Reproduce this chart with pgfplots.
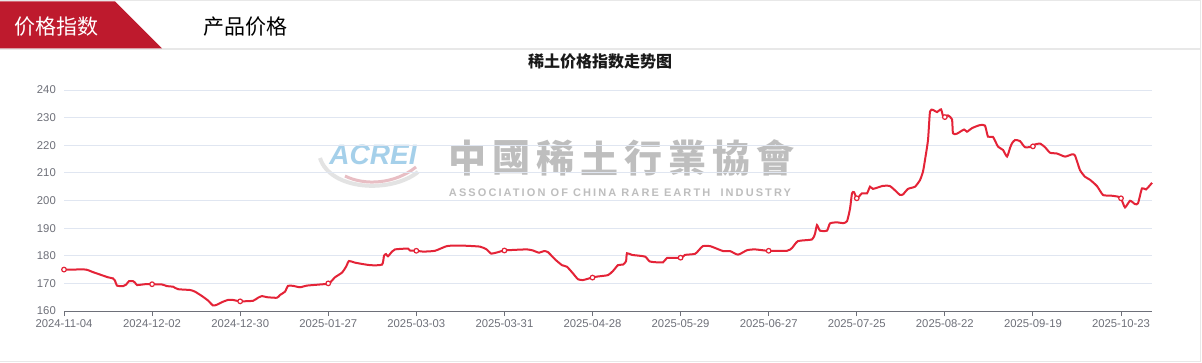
\documentclass[border=0pt]{standalone}
\usepackage{pgfplots}
\pgfplotsset{compat=1.18}
\usepackage{fontspec}
\setmainfont{Liberation Sans}
\newfontfamily\cjk{Noto Sans CJK SC}
\newfontfamily\cjktc{Noto Sans CJK TC}
\newfontfamily\wmfont[LetterSpace=19]{Liberation Sans Bold}
\definecolor{hdrred}{RGB}{190,26,45}
\definecolor{linered}{RGB}{228,35,55}
\definecolor{gridc}{RGB}{224,230,241}
\definecolor{axisc}{RGB}{110,112,121}
\definecolor{borderc}{RGB}{232,232,232}
\definecolor{wmgray}{RGB}{190,190,190}
\definecolor{wmblue}{RGB}{165,208,234}
\definecolor{wmpink}{RGB}{232,190,196}
\begin{document}
\begin{tikzpicture}
\useasboundingbox (0pt,0pt) rectangle (1202pt,362pt);
% header
\fill[white] (0pt,0pt) rectangle (1202pt,362pt);
\draw[borderc,line width=1pt] (0pt,361.5pt) -- (1200.5pt,361.5pt) -- (1200.5pt,0.5pt) -- (0pt,0.5pt);
\draw[borderc,line width=1.5pt] (0pt,313pt) -- (1200pt,313pt);
\fill[hdrred] (0pt,313.5pt) -- (0pt,360.5pt) -- (115pt,360.5pt) -- (162pt,313.5pt) -- cycle;
\node[anchor=west,inner sep=0pt,text=white] at (14pt,335.5pt) {\cjk\fontsize{21}{21}\selectfont 价格指数};
\node[anchor=west,inner sep=0pt,text=black] at (203pt,335.5pt) {\cjk\fontsize{21}{21}\selectfont 产品价格};
% title
\node[inner sep=0pt,text=black!90] at (600pt,301pt) {\cjk\bfseries\fontsize{16}{16}\selectfont 稀土价格指数走势图};
% watermark
\draw[gray!22,line width=4pt] (320pt,204pt) .. controls (330pt,172pt) and (390pt,168pt) .. (418pt,190pt);
\draw[wmpink,line width=3pt] (345pt,186pt) .. controls (365pt,176pt) and (395pt,178pt) .. (416pt,195pt);
\node[inner sep=0pt,text=wmblue] at (373pt,207pt) {\fontsize{28}{28}\selectfont\bfseries\itshape ACREI};
\foreach \c [count=\i from 0] in {中,國,稀,土,行,業,協,會} {
  \node[inner sep=0pt,text=wmgray] at ({467pt+44*\i pt},204pt) {\cjktc\bfseries\fontsize{38}{38}\selectfont \c};
}
\node[inner sep=0pt,text=wmgray] at (620pt,169pt) {\wmfont\fontsize{11}{11}\selectfont ASSOCIATION OF CHINA RARE EARTH\ \ INDUSTRY};
\begin{axis}[
  at={(64pt,51pt)}, anchor=south west,
  scale only axis, width=1088pt, height=221pt,
  xmin=64, xmax=1152, ymin=160, ymax=240,
  axis x line*=bottom, axis y line*=left,
  y axis line style={draw=none},
  x axis line style={draw=axisc,line width=1pt},
  xtick={64,152.08,240.17,328.25,416.33,504.42,592.5,680.58,768.67,856.75,944.83,1032.92,1121},
  xticklabels={2024-11-04,2024-12-02,2024-12-30,2025-01-27,2025-03-03,2025-03-31,2025-04-28,2025-05-29,2025-06-27,2025-07-25,2025-08-22,2025-09-19,2025-10-23},
  ytick={160,170,...,240},
  xtick align=outside, ytick align=inside,
  major tick length=5pt,
  xtick style={draw=axisc,line width=1pt},
  ytick style={draw=none},
  ymajorgrids, grid style={draw=gridc,line width=1pt},
  tick label style={font=\fontsize{11.3}{11.3}\selectfont, text=axisc},
  /pgf/number format/assume math mode=true,
  yticklabel style={inner sep=0pt, xshift=-8pt},
  xticklabel style={inner sep=0pt, yshift=-3pt},
  clip=false,
]
\addplot[linered, line width=2pt, smooth, tension=0.35] coordinates {
(64,175) (70,175) (86,175) (92,174.2) (100,173.2) (108,172.2) (113,171.8) (115,171) (117,169.2)
(123,169) (126,169.5) (129,170.8) (133,170.8) (135,170.3) (137,169.4) (145,169.7) (152,169.7)
(162,169.6) (167,169) (173,168.8) (178,167.9) (190,167.6) (195,167) (202,165.4) (208,163.8)
(213,162) (217,162.3) (222,163.2) (228,164) (233,164) (240,163.5) (253,163.7) (258,164.8)
(262,165.4) (267,165) (277,164.8) (280,165.8) (285,167) (288,169.1) (293,169.1) (300,168.6)
(307,169.2) (320,169.6) (329,170) (335,172.2) (342,173.9) (346,176) (349,178.1) (355,177.5)
(370,176.6) (382,176.8) (384,180) (386,180.6) (388,179.8) (392,181.5) (395,182.3) (408,182.6)
(410,181.9) (417,181.8) (423,181.5) (435,181.8) (447,183.5) (460,183.7) (480,183.3) (487,182.2)
(491,180.8) (497,181.2) (504,181.9) (513,182.1) (527,182.3) (533,181.9) (539,181.1) (544,181.7)
(548,181.3) (555,178.7) (562,176.6) (567,176) (573,173.6) (578,171.5) (583,171.2) (592,172.1)
(598,172.5) (608,173) (613,174.5) (618,176.6) (623,176.8) (626,178) (627,180.9) (632,180.3)
(645,179.7) (650,177.9) (663,177.6) (667,179.2) (681,179.3) (685,180.3) (695,180.7) (700,182.5)
(703,183.5) (710,183.5) (723,181.7) (730,181.7) (738,180.4) (747,182) (755,182.3) (768,181.8)
(787,181.8) (792,182.8) (798,185.3) (812,185.9) (815,188) (817,191.1) (820,189.1) (827,189.1)
(830,191.7) (837,192.1) (843,191.8) (847,192.5) (850,197) (852,202.6) (854,203) (857,200.8)
(862,202.6) (867,202.6) (870,205) (873,204.2) (883,205.3) (890,205.2) (897,203) (900,202)
(903,202.2) (908,204.2) (915,205) (920,207.4) (923,210.5) (925,214.7) (928,221.9) (930,232.2)
(933,232.8) (937,232) (941,233) (943,230.6) (945,230.5) (948,230.8) (952,229.4) (953,224.3)
(957,224.2) (964,225.7) (967,224.9) (972,226.2) (980,227.3) (985,227.1) (988,223.1) (993,223)
(998,219.5) (1003,218.3) (1007,215.9) (1010,219) (1012,220.7) (1015,221.9) (1020,221.5)
(1025,219.3) (1032,219.5) (1035,220.3) (1040,220.6) (1045,219.3) (1050,217.3) (1057,217)
(1065,215.9) (1072,216.7) (1075,216.3) (1080,211) (1085,208.6) (1090,207.5) (1097,205.2)
(1103,202) (1110,201.8) (1118,201.4) (1121,200.8) (1125,197.5) (1130,199.9) (1135,198.7)
(1138,199) (1142,204.4) (1146,204) (1152,206.4)
};
\addplot[only marks, mark=*, mark size=2.3pt, mark options={fill=white, draw=linered, line width=1.2pt}] coordinates {
(64,175) (152.08,169.7) (240.17,163.5) (328.25,170) (416.33,181.8) (504.42,181.9) (592.5,172.1)
(680.58,179.3) (768.67,181.8) (856.75,200.8) (944.83,230.2) (1032.92,219.6) (1121,200.8)
};
\end{axis}
\end{tikzpicture}
\end{document}
